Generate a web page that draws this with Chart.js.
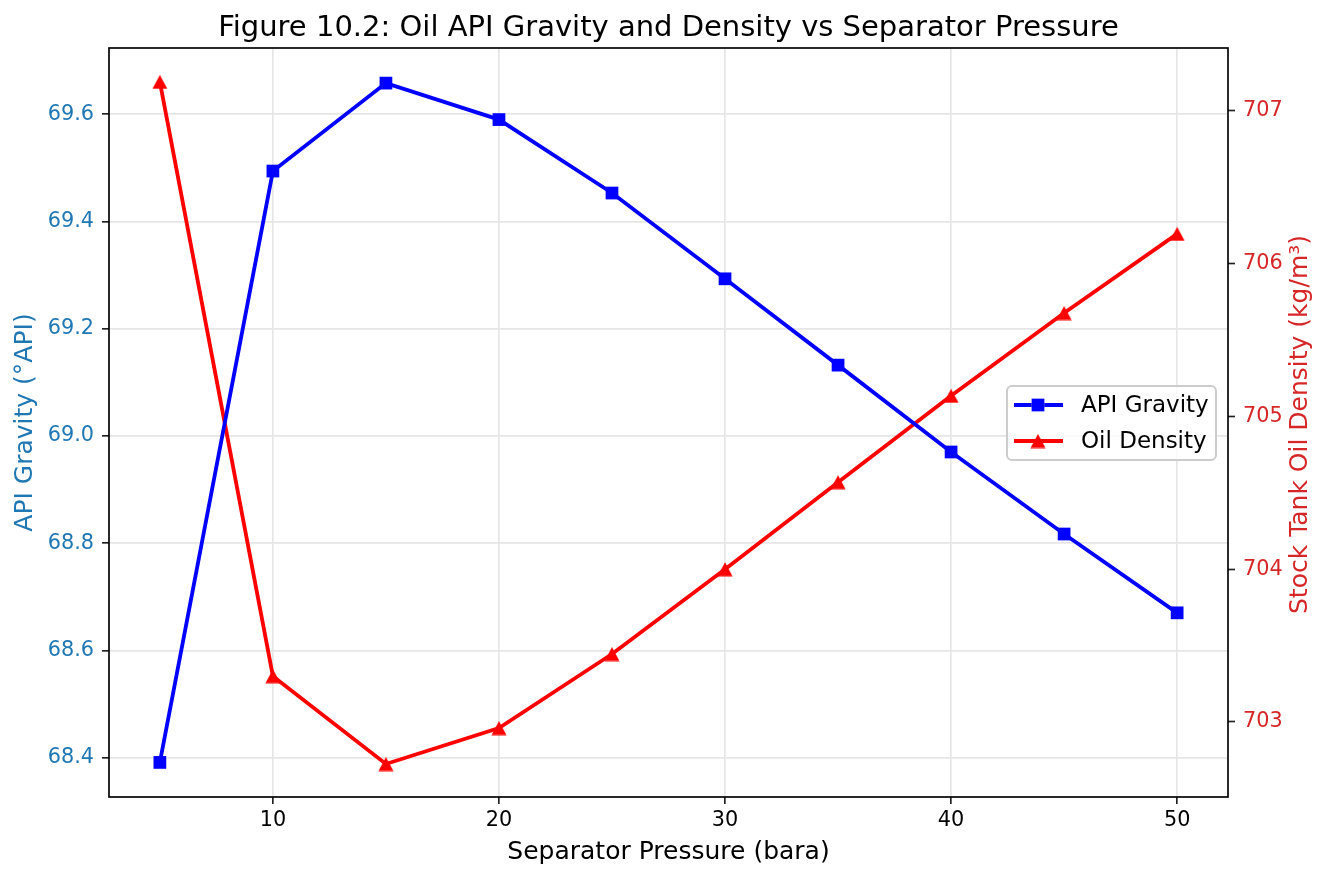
<!DOCTYPE html>
<html>
<head>
<meta charset="utf-8">
<script src="https://cdn.jsdelivr.net/npm/chart.js@4.4.1/dist/chart.umd.min.js"></script>
<style>
  html, body { margin: 0; padding: 0; background: #fff; }
  #wrap { width: 1329px; height: 880px; }
</style>
</head>
<body>
<div id="wrap"><canvas id="myChart" width="1329" height="880"></canvas></div>
<script>
// du lieu doc tu hinh
const pressure = [5, 10, 15, 20, 25, 30, 35, 40, 45, 50];
const apiGravity = [68.391, 69.494, 69.658, 69.590, 69.453, 69.293, 69.132, 68.970, 68.817, 68.670];
const oilDensity = [707.19, 703.30, 702.725, 702.96, 703.445, 704.00, 704.57, 705.135, 705.677, 706.195];
const xTicks = [10, 20, 30, 40, 50];
const apiTicks = [68.4, 68.6, 68.8, 69.0, 69.2, 69.4, 69.6];
const densityTicks = [703, 704, 705, 706, 707];

const titleText = 'Figure 10.2: Oil API Gravity and Density vs Separator Pressure';
const seriesNames = ['API Gravity', 'Oil Density'];
const rightLabel = 'Stock Tank Oil Density (kg/m³)';

Chart.defaults.font.family = '"DejaVu Sans", sans-serif';
Chart.defaults.color = '#000';

const gridColor = '#e6e6e6';
const tickFont = { size: 20.8 };
const labelFont = { size: 25 };

// marker tam giac giong matplotlib (tam o giua)
function makeTriangle(color) {
        const c = document.createElement('canvas');
        c.width = 16;
        c.height = 15;
        const g = c.getContext('2d');
        g.fillStyle = color;
        g.beginPath();
        g.moveTo(8, 0.5);
        g.lineTo(15.5, 14.5);
        g.lineTo(0.5, 14.5);
        g.closePath();
        g.fill();
        return c;
}
const redTriangle = makeTriangle('#ff0000');

// ve title, khung va legend
const extras = {
        id: 'extras',
        beforeDraw(chart) {
                const ctx = chart.ctx;
                ctx.save();
                ctx.fillStyle = '#fff';
                ctx.fillRect(0, 0, chart.width, chart.height);
                ctx.restore();
        },
        afterDatasetsDraw(chart) {
                const ctx = chart.ctx;
                const a = chart.chartArea;
                ctx.save();
                ctx.strokeStyle = '#000';
                ctx.lineWidth = 1.67;
                ctx.strokeRect(a.left, a.top, a.right - a.left, a.bottom - a.top);

                // title
                ctx.fillStyle = '#000';
                ctx.font = '29px "DejaVu Sans"';
                ctx.textAlign = 'center';
                ctx.textBaseline = 'alphabetic';
                ctx.fillText(titleText, (a.left + a.right) / 2, 36);

                // nhan truc phai (doc tu duoi len)
                ctx.save();
                ctx.translate(1300, (a.top + a.bottom) / 2 + 2);
                ctx.rotate(-Math.PI / 2);
                ctx.fillStyle = '#d62728';
                ctx.font = '25px "DejaVu Sans"';
                ctx.textBaseline = 'middle';
                ctx.fillText(rightLabel, 0, 0);
                ctx.restore();

                // legend
                const bx = 1007, by = 386, bw = 209, bh = 74;
                ctx.beginPath();
                ctx.roundRect(bx, by, bw, bh, 5);
                ctx.fillStyle = 'rgba(255,255,255,0.8)';
                ctx.fill();
                ctx.strokeStyle = '#cccccc';
                ctx.lineWidth = 2;
                ctx.stroke();

                chart.data.datasets.forEach((ds, i) => {
                        const y = 405 + i * 36;
                        ctx.strokeStyle = ds.borderColor;
                        ctx.lineWidth = ds.borderWidth;
                        ctx.beginPath();
                        ctx.moveTo(1014, y);
                        ctx.lineTo(1063, y);
                        ctx.stroke();
                        Chart.helpers.drawPoint(ctx, {
                                pointStyle: ds.pointStyle,
                                radius: ds.pointRadius,
                                rotation: 0,
                                borderWidth: 0
                        }, 1038, y);
                        ctx.fillStyle = ds.borderColor;
                        ctx.fill();
                        ctx.fillStyle = '#000';
                        ctx.textAlign = 'left';
                        ctx.textBaseline = 'middle';
                        ctx.font = '23px "DejaVu Sans"';
                        ctx.fillText(seriesNames[i], 1081, y + 1);
                });
                ctx.restore();
        }
};

const data = {
        labels: pressure,
        datasets: [{
                label: seriesNames[0],
                data: pressure.map((p, i) => ({ x: p, y: apiGravity[i] })),
                borderColor: '#0000ff',
                backgroundColor: '#0000ff',
                borderWidth: 3.8,
                pointStyle: 'rect',
                pointRadius: 9,
                pointHoverRadius: 9,
                pointBorderWidth: 0,
                yAxisID: 'y'
        }, {
                label: seriesNames[1],
                data: pressure.map((p, i) => ({ x: p, y: oilDensity[i] })),
                borderColor: '#ff0000',
                backgroundColor: '#ff0000',
                borderWidth: 3.8,
                pointStyle: redTriangle,
                pointRadius: 8.5,
                pointHoverRadius: 8.5,
                pointBorderWidth: 0,
                yAxisID: 'y1'
        }]
};

const config = {
        type: 'line',
        data: data,
        plugins: [extras],
        options: {
                responsive: false,
                animation: false,
                events: [],
                layout: { padding: { left: 10, right: 14, top: 48, bottom: 13 } },
                plugins: {
                        legend: { display: false },
                        title: { display: false },
                        tooltip: { enabled: false }
                },
                scales: {
                        x: {
                                type: 'linear',
                                min: 2.75,
                                max: 52.25,
                                afterBuildTicks: s => { s.ticks = xTicks.map(v => ({ value: v })); },
                                afterFit: s => { s.height = 70; },
                                ticks: { font: tickFont, color: '#000', padding: 4, maxRotation: 0 },
                                grid: { color: gridColor, lineWidth: 1.67, tickColor: '#222', tickLength: 7, tickWidth: 1.67 },
                                border: { display: false },
                                title: { display: true, text: 'Separator Pressure (bara)', font: labelFont, color: '#000', padding: 0 }
                        },
                        y: {
                                position: 'left',
                                min: 68.3265,
                                max: 69.7235,
                                afterBuildTicks: s => { s.ticks = apiTicks.map(v => ({ value: v })); },
                                afterFit: s => { s.width = 99; },
                                ticks: { font: tickFont, color: '#1f77b4', padding: 8, callback: v => v.toFixed(1) },
                                grid: { color: gridColor, lineWidth: 1.67, tickColor: '#222', tickLength: 7, tickWidth: 1.67 },
                                border: { display: false },
                                title: { display: true, text: 'API Gravity (°API)', font: labelFont, color: '#1f77b4', padding: 0 }
                        },
                        y1: {
                                position: 'right',
                                min: 702.509,
                                max: 707.412,
                                afterBuildTicks: s => { s.ticks = densityTicks.map(v => ({ value: v })); },
                                afterFit: s => { s.width = 87; },
                                ticks: { font: tickFont, color: '#d62728', padding: 8, callback: v => String(v) },
                                grid: { drawOnChartArea: false, tickColor: '#222', tickLength: 7, tickWidth: 1.67 },
                                border: { display: false },
                                title: { display: false }
                        }
                }
        }
};

const myChart = new Chart(document.getElementById('myChart'), config);
</script>
</body>
</html>
